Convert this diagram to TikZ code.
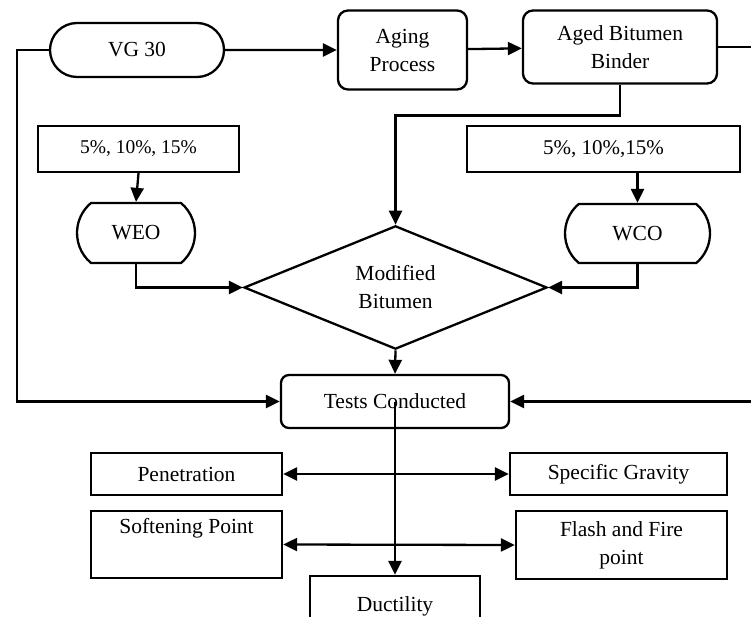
\documentclass[tikz,border=0pt]{standalone}
\usepackage{fontspec}
\setmainfont{Liberation Serif}
\usetikzlibrary{arrows.meta,shapes.geometric,shapes.misc}

\begin{document}
\begin{tikzpicture}[x=1pt,y=-1pt,line width=2.3pt,
	font=\fontsize{21.5}{28}\selectfont,
	box/.style={draw,rectangle,inner sep=0pt,align=center},
	roundbox/.style={box,rounded corners=10pt},
	pill/.style={draw,rounded rectangle,inner sep=0pt},
	oilbox/.style={draw,rounded rectangle,rounded rectangle arc length=100,inner sep=0pt},
	decision/.style={draw,diamond,inner sep=0pt,align=center},
	arr/.style={-{Triangle[length=14pt,width=13pt]}},
	dblarr/.style={{Triangle[length=14pt,width=13pt]}-{Triangle[length=14pt,width=13pt]}}]
	
	\useasboundingbox (0,0) rectangle (751,617);
	
	% Binder and aging
	\node[pill,minimum width=174pt,minimum height=54pt] (vg) at (137,50) {VG 30};
	\node[roundbox,minimum width=129pt,minimum height=79pt] (aging) at (402.5,50) {Aging\\Process};
	\node[roundbox,minimum width=194pt,minimum height=73pt] (aged) at (620,47) {Aged Bitumen\\Binder};
	
	% Dosages and oils
	\node[box,minimum width=201pt,minimum height=46pt,font=\fontsize{19.5}{22}\selectfont] (dosew) at (138.5,149) {5\%, 10\%, 15\%};
	\node[box,minimum width=273pt,minimum height=46pt,font=\fontsize{21}{24}\selectfont] (dosec) at (603.5,149) {5\%, 10\%,15\%};
	\node[oilbox,minimum width=118pt,minimum height=60pt] (weo) at (136,233) {WEO};
	\node[oilbox,minimum width=145pt,minimum height=59pt] (wco) at (637.5,233.5) {WCO};
	
	% Modified bitumen
	\node[decision,minimum width=303pt,minimum height=123pt] (mod) at (395.5,287.5) {Modified\\Bitumen};
	
	% Tests
	\node[roundbox,rounded corners=8pt,minimum width=228pt,minimum height=53pt] (tests) at (395,401.5) {Tests Conducted};
	\node[box,minimum width=191pt,minimum height=42pt] (pen) at (186.5,474) {Penetration};
	\node[box,minimum width=217pt,minimum height=42pt] (spg) at (618.5,474) {Specific Gravity};
	\node[box,minimum width=191pt,minimum height=67pt] (soft) at (186.5,544.5) {Softening Point\\ \strut};
	\node[box,minimum width=211pt,minimum height=68pt] (flash) at (621.5,545) {Flash and Fire\\point};
	\node[box,minimum width=170pt,minimum height=60pt] (duct) at (395,606) {Ductility};
	
	% Connectors
	\draw[arr] (vg) -- (aging);
	\draw[arr] (aging) -- (aged);
	\draw[arr] (vg.west) -- ++(-32,0) |- (tests.west);
	\draw[arr] (aged.east) -- ++(50,0) |- (tests.east);
	\draw[arr] (aged.south) -- ++(0,31) -| (mod.north);
	\draw[arr] (dosew.south) -- (weo.north);
	\draw[arr] (wco.north |- dosec.south) -- (wco.north);
	\draw[arr] (weo.south) |- (mod.west);
	\draw[arr] (wco.south) |- (mod.east);
	\draw[arr] (mod.south) -- (tests.north);
	\draw[arr] (tests.center) -- (duct.north);
	\draw[dblarr] (pen.east) -- (spg.west);
	\draw[dblarr] (soft.east) -- (flash.west);
	
\end{tikzpicture}
\end{document}
